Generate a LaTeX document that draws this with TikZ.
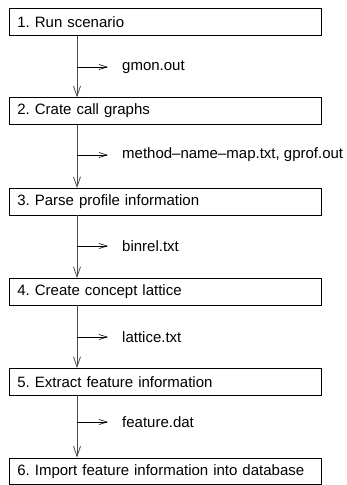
\documentclass[tikz,border=0pt]{standalone}
\usepackage{fontspec}
\setmainfont{Liberation Sans}
\usetikzlibrary{arrows.meta}
\frenchspacing
\begin{document}
\begin{tikzpicture}[x=1pt,y=-1pt,
  stepbox/.style={draw=black,line width=0.8pt,minimum width=312pt,minimum height=26.5pt,
    text width=296pt,inner xsep=8pt,align=left,anchor=north west,font=\fontsize{15}{17}\selectfont},
  flow/.style={draw=black!70,line width=0.8pt,-{Straight Barb[length=10pt,width=7pt,line width=0.8pt]}},
  outarrow/.style={draw=black,line width=0.6pt,-{Straight Barb[length=8pt,width=5pt,line width=0.6pt]}},
  lbl/.style={anchor=west,inner sep=0pt,font=\fontsize{15}{17}\selectfont}]
\useasboundingbox (0,0) rectangle (346,485);
\node[stepbox] (s1) at (9,8.3) {1. Run scenario};
\node[stepbox] (s2) at (9,97.3) {2. Crate call graphs};
\node[stepbox] (s3) at (9,188) {3. Parse profile information};
\node[stepbox] (s4) at (9,278) {4. Create concept lattice};
\node[stepbox] (s5) at (9,368) {5. Extract feature information};
\node[stepbox] (s6) at (9,457.5) {6. Import feature information into database};
\foreach \a/\b in {s1/s2,s2/s3,s3/s4,s4/s5,s5/s6}{
  \draw[flow] (\a.south west -| 77,0) -- (\b.north west -| 77,0);
}
\foreach \y/\n/\t in {67/o1/{gmon.out},155/o2/{method--name--map.txt, gprof.out},246/o3/{binrel.txt},337/o4/{lattice.txt},422/o5/{feature.dat}}{
  \coordinate (\n a) at (77,\y);
  \coordinate (\n b) at (108,\y);
  \node[lbl] (\n) at (122,\y) {\t};
  \draw[outarrow] (\n a) -- (\n b);
}
\end{tikzpicture}
\end{document}
